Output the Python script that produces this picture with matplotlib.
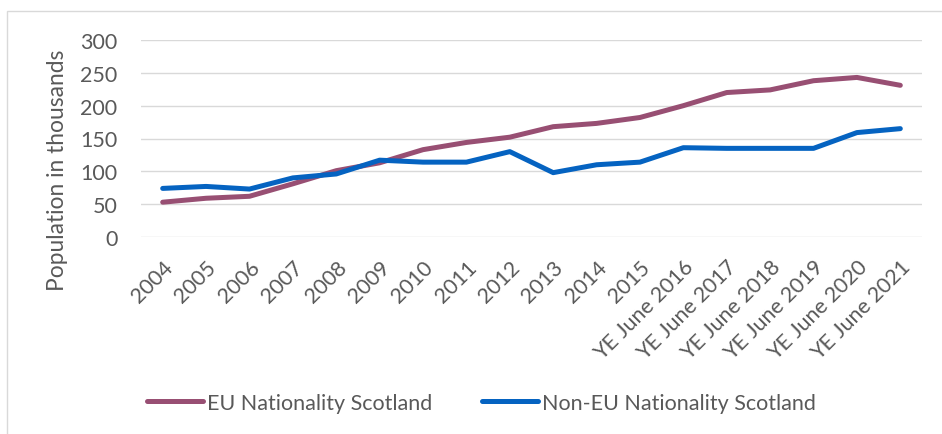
import matplotlib.pyplot as plt
from matplotlib.patches import Rectangle

years = ["2004", "2005", "2006", "2007", "2008", "2009", "2010", "2011", "2012",
         "2013", "2014", "2015", "YE June 2016", "YE June 2017", "YE June 2018",
         "YE June 2019", "YE June 2020", "YE June 2021"]
eu = [53, 59, 62, 81, 101, 113, 133, 144, 152, 168, 173, 182, 200, 220, 224, 238, 243, 231]
non_eu = [74, 77, 73, 90, 96, 117, 114, 114, 130, 98, 110, 114, 136, 135, 135, 135, 159, 165]

plt.rcParams['font.family'] = ['Lato', 'DejaVu Sans']
grey = '#595959'

fig = plt.figure(figsize=(9.42, 4.35), dpi=100)
# light chart border
fig.patches.append(Rectangle((7 / 942, -0.01), 1.0, 1 - 12 / 435 + 0.01,
                             transform=fig.transFigure, fill=False,
                             edgecolor='#d9d9d9', linewidth=1))
ax = fig.add_axes([141 / 942, 1 - 238 / 435, (922 - 141) / 942, (238 - 41) / 435])

x = range(len(years))
ax.plot(x, eu, color='#984F73', linewidth=3.6, solid_capstyle='round',
        label='EU Nationality Scotland')
ax.plot(x, non_eu, color='#0563C1', linewidth=3.6, solid_capstyle='round',
        label='Non-EU Nationality Scotland')

ax.set_ylim(0, 300)
ax.set_xlim(-0.5, len(years) - 0.5)
ax.set_yticks(range(0, 301, 50))
ax.grid(axis='y', color='#d9d9d9', linewidth=1)
ax.set_axisbelow(True)
for s in ax.spines.values():
    s.set_visible(False)
ax.tick_params(length=0, colors=grey, labelsize=15.5)
ax.tick_params(axis='y', pad=17)
ax.tick_params(axis='x', pad=14)
ax.set_xticks(list(x))
ax.set_xticklabels(years, rotation=45, ha='right', rotation_mode='anchor')

fig.text(57 / 942, 1 - 170 / 435, 'Population in thousands', color=grey,
         fontsize=16.4, rotation=90, ha='center', va='center')

fig.legend(loc='center left', bbox_to_anchor=(147 / 942, 1 - 404 / 435), ncol=2,
           frameon=False, fontsize=15.5, labelcolor=grey, handlelength=2.6,
           handletextpad=0.2, columnspacing=2.3, borderpad=0, borderaxespad=0)

fig.savefig('out.png', dpi=100)
